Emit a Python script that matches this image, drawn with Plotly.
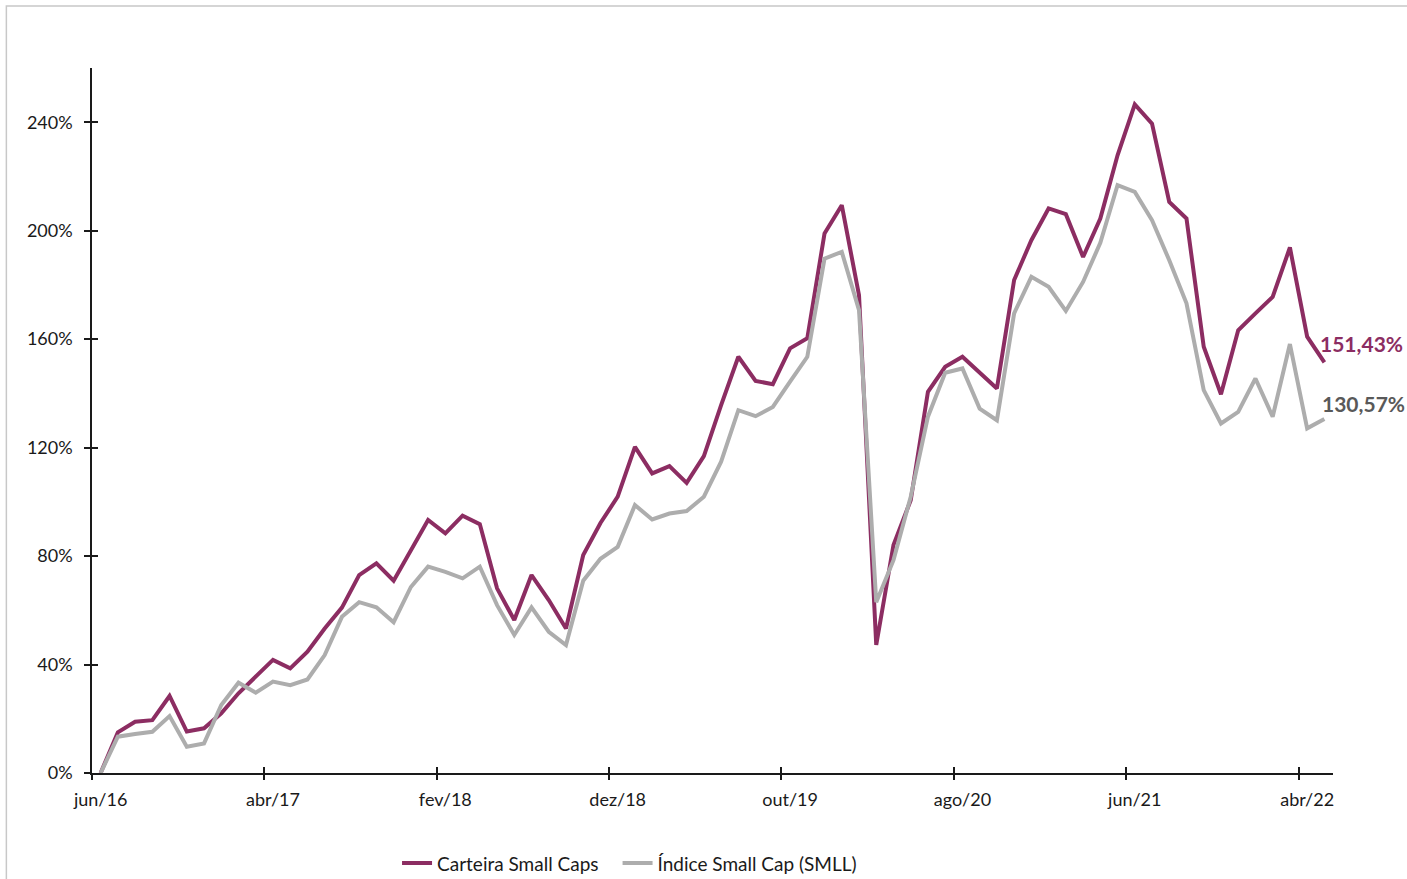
import plotly.graph_objects as go

months = [
    "jun/16", "jul/16", "ago/16", "set/16", "out/16", "nov/16", "dez/16",
    "jan/17", "fev/17", "mar/17", "abr/17", "mai/17", "jun/17", "jul/17", "ago/17", "set/17", "out/17", "nov/17", "dez/17",
    "jan/18", "fev/18", "mar/18", "abr/18", "mai/18", "jun/18", "jul/18", "ago/18", "set/18", "out/18", "nov/18", "dez/18",
    "jan/19", "fev/19", "mar/19", "abr/19", "mai/19", "jun/19", "jul/19", "ago/19", "set/19", "out/19", "nov/19", "dez/19",
    "jan/20", "fev/20", "mar/20", "abr/20", "mai/20", "jun/20", "jul/20", "ago/20", "set/20", "out/20", "nov/20", "dez/20",
    "jan/21", "fev/21", "mar/21", "abr/21", "mai/21", "jun/21", "jul/21", "ago/21", "set/21", "out/21", "nov/21", "dez/21",
    "jan/22", "fev/22", "mar/22", "abr/22", "mai/22",
]

carteira = [
    0.0, 15.0, 18.9, 19.5, 28.4, 15.3, 16.5, 22.0, 29.4, 35.5,
    41.7, 38.6, 44.7, 53.3, 61.0, 73.0, 77.3, 70.9, 82.1, 93.3,
    88.4, 94.9, 91.8, 68.1, 56.4, 73.0, 63.8, 53.3, 80.4, 92.2,
    101.9, 120.3, 110.5, 113.2, 107.0, 116.9, 135.7, 153.5, 144.6, 143.4,
    156.6, 160.3, 199.0, 209.4, 176.2, 47.2, 84.1, 100.6, 140.6, 149.8,
    153.5, 147.6, 141.8, 181.8, 196.5, 208.2, 206.1, 190.3, 204.5, 227.8,
    246.6, 239.5, 210.6, 204.5, 157.2, 139.7, 163.3, 169.5, 175.6, 193.8,
    160.9, 151.43,
]

smll = [
    0.0, 13.4, 14.4, 15.2, 21.0, 9.7, 10.9, 25.1, 33.3, 29.6,
    33.7, 32.4, 34.5, 43.5, 57.6, 63.0, 61.1, 55.6, 68.6, 76.1,
    74.2, 71.8, 76.1, 61.9, 50.9, 61.1, 52.1, 47.2, 70.9, 79.0,
    83.4, 98.8, 93.5, 95.7, 96.6, 101.9, 114.8, 133.8, 131.6, 135.0,
    144.3, 153.5, 189.7, 192.2, 170.7, 63.0, 78.5, 101.9, 131.4, 147.6,
    149.2, 134.4, 130.1, 169.5, 183.0, 179.3, 170.4, 181.1, 195.5, 216.8,
    214.3, 203.9, 189.1, 173.2, 141.2, 128.9, 133.2, 145.5, 131.4, 158.2,
    127.1, 130.57,
]

x_ticks = ["jun/16", "abr/17", "fev/18", "dez/18", "out/19", "ago/20", "jun/21", "abr/22"]
y_ticks = [0, 40, 80, 120, 160, 200, 240]
y_ticktext = ["0%", "40%", "80%", "120%", "160%", "200%", "240%"]

series_names = ["Carteira Small Caps", "Índice Small Cap (SMLL)"]
colors = ["#8C2D62", "#ADADAD"]
end_labels = ["151,43%", "130,57%"]
end_label_colors = ["#8C2D62", "#595959"]

FONT = "Lato, 'Open Sans', sans-serif"
TXT = "#1a1a1a"

# tick marks sit on the category boundaries (half a month before each labelled month)
n = len(months)
boundary_ticks = [months.index(m) - 0.5 for m in x_ticks]

fig = go.Figure()
fig.add_trace(go.Scatter(x=months, y=carteira, mode="lines", name=series_names[0],
                         line=dict(color=colors[0], width=4), legend="legend"))
fig.add_trace(go.Scatter(x=months, y=smll, mode="lines", name=series_names[1],
                         line=dict(color=colors[1], width=4), legend="legend2"))
# helper traces (draw nothing) so the overlay axes carrying the cross-tick halves are rendered
fig.add_trace(go.Scatter(x=boundary_ticks, y=[0] * len(boundary_ticks), mode="none",
                         xaxis="x2", yaxis="y2", showlegend=False, hoverinfo="skip"))
fig.add_trace(go.Scatter(x=boundary_ticks, y=[0] * len(boundary_ticks), mode="none",
                         xaxis="x3", yaxis="y2", showlegend=False, hoverinfo="skip"))

xr = [-0.5, n - 0.5]
yr = [0, 260]
axis_line = dict(showline=True, linecolor="#1a1a1a", linewidth=1.5)
tick_common = dict(ticklen=6, tickwidth=1.5, tickcolor="#1a1a1a")
overlay_common = dict(showticklabels=False, showgrid=False, zeroline=False,
                      showline=False, automargin=False, **tick_common)

fig.update_layout(
    width=1407, height=879,
    margin=dict(l=92, r=74, t=68, b=106, autoexpand=False),
    paper_bgcolor="white", plot_bgcolor="white",
    font=dict(family=FONT, color=TXT, size=18),
    xaxis=dict(type="category", range=xr, tickmode="array", tickvals=x_ticks,
               ticks="", tickangle=0, showgrid=False, zeroline=False, automargin=False,
               tickfont=dict(size=18, family=FONT, color=TXT),
               ticklabelstandoff=10, **axis_line),
    yaxis=dict(range=yr, tickmode="array", tickvals=y_ticks, ticktext=y_ticktext,
               ticks="outside", showgrid=False, zeroline=False, automargin=False,
               tickfont=dict(size=18, family=FONT, color=TXT),
               ticklabelstandoff=8, **tick_common, **axis_line),
    xaxis2=dict(range=xr, overlaying="x", anchor="y2", side="bottom",
                tickmode="array", tickvals=boundary_ticks, ticks="outside", **overlay_common),
    xaxis3=dict(range=xr, overlaying="x", anchor="y2", side="bottom",
                tickmode="array", tickvals=boundary_ticks, ticks="inside", **overlay_common),
    yaxis2=dict(range=yr, overlaying="y", anchor="x2", side="left",
                tickmode="array", tickvals=y_ticks, ticks="inside", **overlay_common),
    legend=dict(orientation="h", x=0.2458, xanchor="left", y=-0.128, yanchor="middle",
                font=dict(size=19, family=FONT, color=TXT),
                itemwidth=30, bgcolor="rgba(0,0,0,0)"),
    legend2=dict(orientation="h", x=0.4235, xanchor="left", y=-0.128, yanchor="middle",
                 font=dict(size=19, family=FONT, color=TXT),
                 itemwidth=30, bgcolor="rgba(0,0,0,0)"),
    showlegend=True,
)

# end-of-series value labels, anchored at the last data point
last = months[-1]
fig.add_annotation(x=last, y=carteira[-1], text="<b>" + end_labels[0] + "</b>",
                   xanchor="left", yanchor="middle", xshift=-6, yshift=19, showarrow=False,
                   font=dict(size=21, family=FONT, color=end_label_colors[0]))
fig.add_annotation(x=last, y=smll[-1], text="<b>" + end_labels[1] + "</b>",
                   xanchor="left", yanchor="middle", xshift=-4, yshift=15, showarrow=False,
                   font=dict(size=21, family=FONT, color=end_label_colors[1]))

# light frame around the chart area
fig.add_shape(type="rect", xref="paper", yref="paper",
              x0=-0.069, x1=1.08, y0=-0.2, y1=1.088,
              line=dict(color="#C8C8C8", width=1.5), fillcolor="rgba(0,0,0,0)", layer="below")

fig.write_html("out.html")
